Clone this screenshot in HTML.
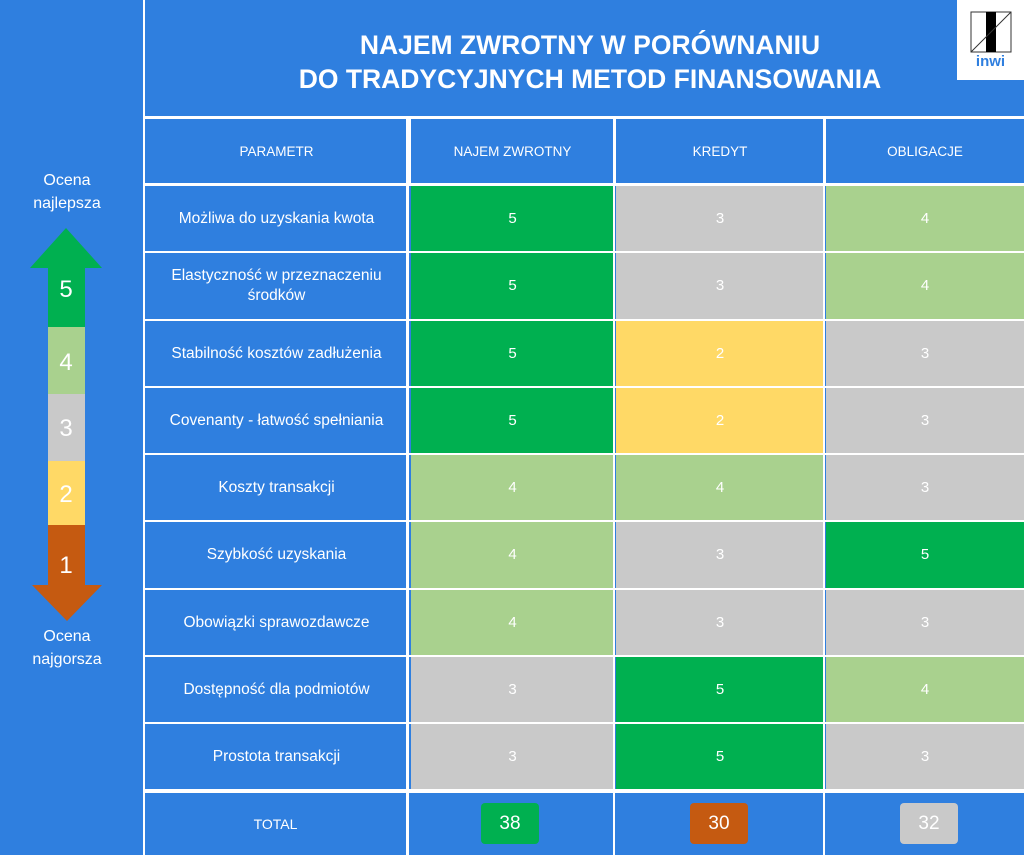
<!DOCTYPE html><html><head><meta charset="utf-8"><style>
body{margin:0;width:1024px;height:855px;background:#2f7fdf;position:relative;overflow:hidden;font-family:"Liberation Sans",sans-serif;color:#fff}
.a{position:absolute;box-sizing:border-box;display:flex;align-items:center;justify-content:center;text-align:center}
.t{font-size:15.5px}
.n{font-size:15px}
</style></head><body>
<div class="a" style="left:143px;top:0;width:2px;height:855px;background:#fff"></div>
<div class="a" style="left:145px;top:116px;width:879px;height:3px;background:#fff"></div>
<div class="a" style="left:180px;top:22px;width:820px;height:80px;font-size:26.5px;font-weight:bold;line-height:34px">NAJEM ZWROTNY W PORÓWNANIU<br>DO TRADYCYJNYCH METOD FINANSOWANIA</div>
<div class="a" style="left:957px;top:0;width:67px;height:80px;background:#fff;flex-direction:column">
<svg width="42" height="42" viewBox="0 0 42 42"><rect x="1" y="1" width="40" height="40" fill="none" stroke="#333"/><rect x="16" y="1" width="10" height="40" fill="#000"/><line x1="1" y1="41" x2="41" y2="1" stroke="#333"/></svg>
<div style="color:#2f7fdf;font-size:15px;font-weight:bold">inwi</div></div>
<div class="a" style="left:0;top:170px;width:134px;height:44px;font-size:16px;line-height:23px">Ocena<br>najlepsza</div>
<div class="a" style="left:0;top:626px;width:134px;height:44px;font-size:16px;line-height:23px">Ocena<br>najgorsza</div>
<svg style="position:absolute;left:0;top:0" width="143" height="855">
<polygon points="66,228 102,268 30,268" fill="#00b050"/>
<rect x="48" y="267" width="37" height="60" fill="#00b050"/>
<rect x="48" y="327" width="37" height="67" fill="#a9d18e"/>
<rect x="48" y="394" width="37" height="67" fill="#c9c9c9"/>
<rect x="48" y="461" width="37" height="64" fill="#ffd966"/>
<rect x="48" y="525" width="37" height="61" fill="#c55a11"/>
<polygon points="32,585 102,585 67,621" fill="#c55a11"/>
<g font-size="24" fill="#fff" text-anchor="middle" font-family="Liberation Sans"><text x="66" y="297">5</text><text x="66" y="370">4</text><text x="66" y="436">3</text><text x="66" y="502">2</text><text x="66" y="573">1</text></g>
</svg>
<div id="tb"></div>
<script>
var C={5:"#00b050",4:"#a9d18e",3:"#c9c9c9",2:"#ffd966"};
var xs=[145,408,614,824,1024];
var rows=[["Możliwa do uzyskania kwota",5,3,4],["Elastyczność w przeznaczeniu<br>środków",5,3,4],["Stabilność kosztów zadłużenia",5,2,3],["Covenanty - łatwość spełniania",5,2,3],["Koszty transakcji",4,4,3],["Szybkość uzyskania",4,3,5],["Obowiązki sprawozdawcze",4,3,3],["Dostępność dla podmiotów",3,5,4],["Prostota transakcji",3,5,3]];
var ys=[185,252,320,387,454,521,589,656,723,790];
var h="";
var hd=["PARAMETR","NAJEM ZWROTNY","KREDYT","OBLIGACJE"];
for(var c=0;c<4;c++){h+='<div class="a t" style="left:'+xs[c]+'px;top:119px;width:'+(xs[c+1]-xs[c])+'px;height:64px;font-size:13.5px;border-left:'+(c?(c==1?3:2):0)+'px solid #fff">'+hd[c]+'</div>';}
h+='<div class="a" style="left:145px;top:183px;width:879px;height:3px;background:#fff"></div>';
for(var r=0;r<9;r++){var y=ys[r]+1,hh=ys[r+1]-ys[r]-2;
for(var c=0;c<4;c++){var bg=c?C[rows[r][c]]:"transparent";
h+='<div class="a '+(c?'n':'t')+'" style="left:'+(xs[c]+(c?(c==1?3:2):0))+'px;top:'+y+'px;width:'+(xs[c+1]-xs[c]-(c?(c==1?3:2):0))+'px;height:'+hh+'px;background:'+bg+';line-height:20px">'+rows[r][c]+'</div>';}
h+='<div class="a" style="left:145px;top:'+(ys[r+1]-1)+'px;width:879px;height:2px;background:#fff"></div>';}
h+='<div class="a" style="left:145px;top:789px;width:879px;height:4px;background:#fff"></div>';
h+='<div class="a" style="left:406px;top:119px;width:3px;height:736px;background:#fff"></div>';
h+='<div class="a" style="left:613px;top:119px;width:2px;height:736px;background:#fff"></div>';
h+='<div class="a" style="left:823px;top:119px;width:2px;height:736px;background:#fff"></div>';
h+='<div class="a t" style="left:145px;top:793px;width:261px;height:62px;font-size:14px">TOTAL</div>';
var tt=[[481,"#00b050","38"],[690,"#c55a11","30"],[900,"#c9c9c9","32"]];
tt.forEach(function(t){h+='<div class="a" style="left:'+t[0]+'px;top:803px;width:58px;height:41px;border-radius:4px;background:'+t[1]+';font-size:19px">'+t[2]+'</div>';});
document.getElementById("tb").innerHTML=h;
</script>
</body></html>
